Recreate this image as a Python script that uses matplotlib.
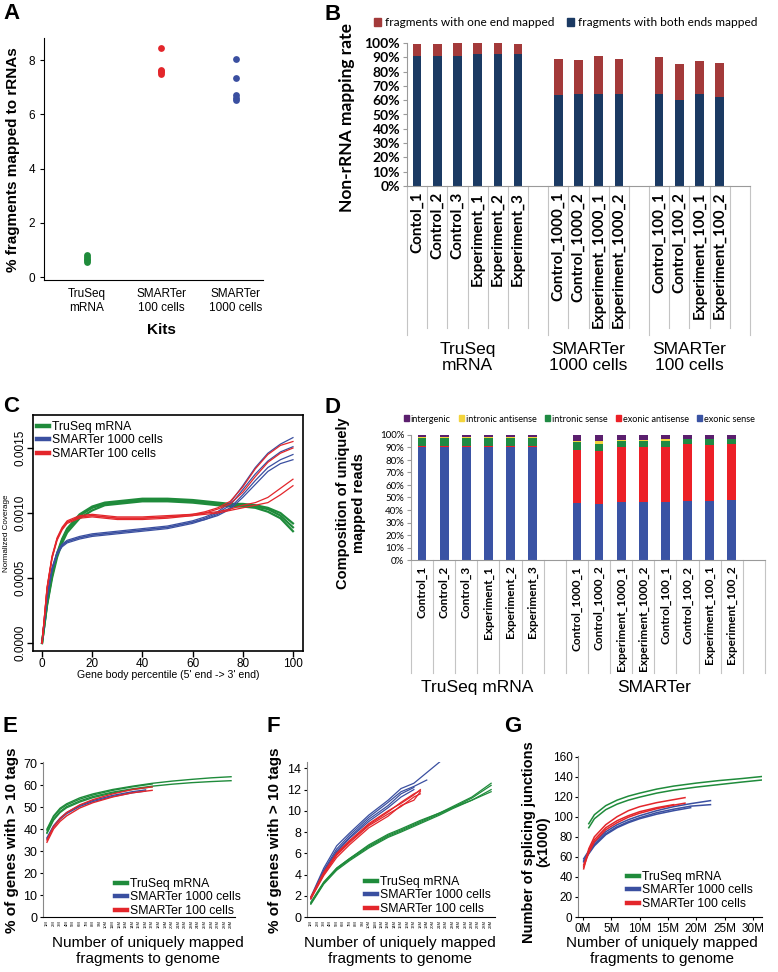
import numpy as np
import matplotlib
matplotlib.use('Agg')
import matplotlib.pyplot as plt
from matplotlib.lines import Line2D
from matplotlib.patches import Patch

plt.rcParams['font.family'] = ['Liberation Sans', 'DejaVu Sans']

W, H = 778, 972

# ---------------- data ----------------
# A: % fragments mapped to rRNAs
kits = ['TruSeq\nmRNA', 'SMARTer\n100 cells', 'SMARTer\n1000 cells']
rrna_truseq = [0.55, 0.62, 0.68, 0.74, 0.80]
rrna_s100 = [8.45, 7.65, 7.6, 7.55, 7.5]
rrna_s1000 = [8.05, 7.35, 6.7, 6.62, 6.55]

# B: non-rRNA mapping rate
b_samples = ['Contol_1', 'Control_2', 'Control_3', 'Experiment_1', 'Experiment_2', 'Experiment_3',
             'Control_1000_1', 'Control_1000_2', 'Experiment_1000_1', 'Experiment_1000_2',
             'Control_100_1', 'Control_100_2', 'Experiment_100_1', 'Experiment_100_2']
b_groups = ['TruSeq\nmRNA', 'SMARTer\n1000 cells', 'SMARTer\n100 cells']
b_group_sizes = [6, 4, 4]
b_both = [91, 91, 91, 92, 92, 92, 63.5, 64.5, 64.5, 64, 64, 60, 64, 62.5]
b_one = [8, 8, 9, 8, 8, 7, 25, 23.5, 26.5, 25, 26.5, 25.5, 23.5, 23.5]

# C: gene body coverage
c_pct = [0, 2, 4, 6, 8, 10, 15, 20, 25, 30, 40, 50, 60, 65, 70, 75, 80, 85, 90, 95, 100]
c_truseq = [
    [0, 0.00030, 0.00052, 0.00068, 0.00079, 0.00087, 0.00098, 0.00104, 0.00107, 0.00108, 0.00110, 0.00110, 0.00109, 0.00108, 0.00107, 0.00106, 0.00106, 0.00105, 0.00103, 0.00098, 0.00089],
    [0, 0.00029, 0.00050, 0.00066, 0.00077, 0.00085, 0.00096, 0.00102, 0.00106, 0.00107, 0.00109, 0.00109, 0.00108, 0.00107, 0.00106, 0.00105, 0.00105, 0.00104, 0.00101, 0.00096, 0.00086],
    [0, 0.00031, 0.00053, 0.00069, 0.00080, 0.00088, 0.00099, 0.00105, 0.00108, 0.00109, 0.00111, 0.00111, 0.00110, 0.00109, 0.00108, 0.00107, 0.00107, 0.00106, 0.00104, 0.00100, 0.00092],
]
c_s1000 = [
    [0, 0.00036, 0.00058, 0.00070, 0.00076, 0.00079, 0.00082, 0.00084, 0.00085, 0.00086, 0.00088, 0.00090, 0.00094, 0.00097, 0.00101, 0.00108, 0.00121, 0.00135, 0.00146, 0.00153, 0.00158],
    [0, 0.00035, 0.00057, 0.00069, 0.00075, 0.00078, 0.00081, 0.00083, 0.00084, 0.00085, 0.00087, 0.00089, 0.00093, 0.00096, 0.00100, 0.00106, 0.00118, 0.00130, 0.00140, 0.00147, 0.00151],
    [0, 0.00034, 0.00056, 0.00068, 0.00074, 0.00077, 0.00080, 0.00082, 0.00083, 0.00084, 0.00086, 0.00088, 0.00092, 0.00095, 0.00099, 0.00104, 0.00114, 0.00125, 0.00135, 0.00141, 0.00145],
    [0, 0.00035, 0.00057, 0.00069, 0.00075, 0.00078, 0.00081, 0.00083, 0.00084, 0.00085, 0.00087, 0.00089, 0.00093, 0.00095, 0.00098, 0.00103, 0.00112, 0.00122, 0.00132, 0.00138, 0.00141],
]
c_s100 = [
    [0, 0.00042, 0.00066, 0.00080, 0.00088, 0.00093, 0.00097, 0.00098, 0.00097, 0.00096, 0.00096, 0.00097, 0.00099, 0.00101, 0.00104, 0.00109, 0.00120, 0.00134, 0.00145, 0.00152, 0.00155],
    [0, 0.00041, 0.00065, 0.00079, 0.00087, 0.00092, 0.00096, 0.00097, 0.00096, 0.00095, 0.00095, 0.00096, 0.00098, 0.00100, 0.00103, 0.00107, 0.00116, 0.00128, 0.00139, 0.00146, 0.00150],
    [0, 0.00043, 0.00067, 0.00081, 0.00089, 0.00094, 0.00098, 0.00099, 0.00098, 0.00097, 0.00097, 0.00098, 0.00099, 0.00100, 0.00101, 0.00103, 0.00106, 0.00108, 0.00112, 0.00119, 0.00126],
    [0, 0.00042, 0.00066, 0.00080, 0.00088, 0.00093, 0.00097, 0.00098, 0.00097, 0.00096, 0.00096, 0.00097, 0.00098, 0.00099, 0.00100, 0.00102, 0.00104, 0.00106, 0.00108, 0.00114, 0.00121],
]

# D: composition of uniquely mapped reads
d_samples = ['Control_1', 'Control_2', 'Control_3', 'Experiment_1', 'Experiment_2', 'Experiment_3',
             'Control_1000_1', 'Control_1000_2', 'Experiment_1000_1', 'Experiment_1000_2',
             'Control_100_1', 'Control_100_2', 'Experiment_100_1', 'Experiment_100_2']
d_groups = ['TruSeq mRNA', 'SMARTer']
d_group_sizes = [6, 8]
d_categories = ['intergenic', 'intronic antisense', 'intronic sense', 'exonic antisense', 'exonic sense']
d_exonic_sense = [90.5, 90.5, 90.5, 90.5, 90.5, 90.5, 45.5, 45, 46.5, 46, 46.5, 47.5, 47, 48]
d_exonic_antisense = [1, 1, 1, 1, 1, 1, 42.5, 42, 43.5, 44, 43.5, 45, 45, 44.5]
d_intronic_sense = [6.2, 6.2, 6.2, 6.2, 6.2, 6.2, 6, 6, 5.5, 5, 5.5, 4, 4.5, 4]
d_intronic_antisense = [0.3, 0.3, 0.3, 0.3, 0.3, 0.3, 1.5, 2.5, 0.5, 1, 1, 0.5, 0.5, 0.5]
d_intergenic = [2, 2, 2, 2, 2, 2, 4.5, 4.5, 4, 4, 3.5, 3, 3, 3]

# E: % of genes with > 10 tags vs depth (tick index)
e_xticklabels = ['%dM' % i for i in range(1, 30)]
e_truseq_x = [1, 2, 3, 4, 6, 8, 11, 14, 17, 20, 23, 26, 29]
e_truseq = [
    [40, 46, 49.5, 51.5, 54.2, 56, 58, 59.5, 60.8, 61.8, 62.6, 63.3, 63.8],
    [38.5, 44.5, 48, 50.2, 52.8, 54.8, 56.8, 58.3, 59.5, 60.4, 61.1, 61.6, 62],
]
e_truseq_short_x = [1, 2, 3, 4, 6, 8, 11, 14, 17]
e_truseq_short = [
    [39.5, 45.5, 49, 51, 53.6, 55.5, 57.6, 59.2, 60.5],
    [38, 44, 47.5, 49.7, 52.3, 54.3, 56.4, 58, 59.2],
]
e_s1000_x = [1, 2, 3, 4, 6, 8, 11, 14, 16]
e_s1000 = [
    [36, 41.5, 45, 47.5, 50.8, 53, 55.3, 57, 57.8],
    [35.5, 41, 44.5, 47, 50.3, 52.5, 54.8, 56.5, 57.3],
]
e_s100_x = [1, 2, 3, 4, 6, 8, 11, 14, 17]
e_s100 = [
    [35, 41, 44.8, 47.5, 51, 53.4, 56, 58, 59.2],
    [34, 40, 43.5, 46, 49.6, 52, 54.6, 56.5, 57.6],
]

# F
f_xticklabels = ['%dM' % i for i in range(1, 30)]
f_truseq_x = [1, 3, 5, 7, 10, 13, 15, 18, 21, 23, 26, 29]
f_truseq = [
    [1.3, 3.2, 4.5, 5.4, 6.6, 7.6, 8.1, 8.9, 9.7, 10.3, 11.2, 12.4],
    [1.4, 3.3, 4.6, 5.5, 6.8, 7.8, 8.3, 9.1, 9.8, 10.3, 11.0, 12.0],
    [1.2, 3.1, 4.4, 5.3, 6.5, 7.5, 8.0, 8.8, 9.6, 10.2, 11.0, 11.8],
    [1.3, 3.2, 4.6, 5.5, 6.7, 7.7, 8.2, 9.0, 9.8, 10.4, 11.3, 12.6],
]
f_s1000_x = [1, 3, 5, 7, 10, 13, 15, 17, 19, 21]
f_s1000 = [
    [1.9, 4.6, 6.7, 7.9, 9.6, 11.0, 12.1, 12.6, 13.6, 14.6],
    [1.8, 4.4, 6.4, 7.7, 9.4, 10.8, 11.8, 12.3, 12.9],
    [1.8, 4.3, 6.2, 7.5, 9.2, 10.5, 11.6, 12.2],
    [1.7, 4.2, 6.1, 7.4, 9.0, 10.3, 11.3, 12.0],
]
f_s100_x = [1, 3, 5, 7, 10, 13, 15, 17, 18]
f_s100 = [
    [1.9, 4.2, 6.0, 7.2, 8.8, 10.0, 10.7, 11.5, 12.0],
    [1.8, 4.0, 5.8, 7.0, 8.6, 9.7, 10.4, 11.3, 11.6],
    [1.7, 3.9, 5.6, 6.8, 8.4, 9.5, 10.5, 11.0, 11.8],
    [1.8, 4.1, 5.9, 7.1, 8.7, 9.9, 10.8, 11.6, 11.9],
]

# G: splicing junctions (x1000) vs fragments (millions)
g_xticklabels = ['0M', '5M', '10M', '15M', '20M', '25M', '30M']
g_truseq_x = [1, 2, 4, 6, 8, 10, 13, 16, 20, 24, 28, 31.5]
g_truseq = [
    [93, 102, 111, 116.5, 120.5, 123.5, 127.5, 130.5, 133.5, 136, 138, 140],
    [89, 98, 107, 112.5, 116.5, 119.5, 123.5, 126.5, 129.5, 132, 134.5, 136.5],
]
g_s1000_x = [0.1, 1, 2, 4, 6, 8, 10, 13, 16, 19, 22.5]
g_s1000 = [
    [58, 66, 74, 85, 92, 97, 101, 106, 110, 113, 116],
    [56, 64, 72, 83, 90, 95, 99, 104, 107.5, 110.5, 112],
    [55, 63, 71, 82, 89, 94, 98, 102.5, 106, 109],
]
g_s100_x = [0.1, 1, 2, 4, 6, 8, 10, 13, 16, 18]
g_s100 = [
    [48, 68, 80, 92, 100, 106, 110, 114, 117, 119],
    [52, 66, 77, 89, 96, 101, 105, 109, 112],
    [50, 64, 75, 87, 94, 99.5, 103.5, 108, 111.5, 113.5],
]

GREEN, BLUE, RED = '#1f8b3b', '#3a4fa0', '#e3262b'
series_labels = ['TruSeq mRNA', 'SMARTer 1000 cells', 'SMARTer 100 cells']
NARROW = ['Liberation Sans Narrow', 'Lato', 'DejaVu Sans']


def ax_rect(x0, y0, x1, y1):
    return [x0 / W, 1 - y1 / H, (x1 - x0) / W, (y1 - y0) / H]


def ftext(x, y, s, **kw):
    fig.text(x / W, 1 - y / H, s, **kw)


def group_slots(sizes):
    # one empty slot between groups
    pos, start = [], 0
    for s in sizes:
        pos += list(range(start, start + s))
        start += s + 1
    return pos, start - 1


def line_legend(ax, anchor):
    handles = [Line2D([], [], color=c, lw=3.2) for c in (GREEN, BLUE, RED)]
    ax.legend(handles, series_labels, loc='upper left', bbox_to_anchor=anchor,
              bbox_transform=fig.transFigure, frameon=False, fontsize=8.8,
              handlelength=1.0, handletextpad=0.25, labelspacing=0.12,
              borderaxespad=0, borderpad=0)


fig = plt.figure(figsize=(W / 100, H / 100), dpi=100)

# ---------------- A ----------------
axA = fig.add_axes(ax_rect(44, 38, 263, 280))
for i, (vals, col) in enumerate(zip([rrna_truseq, rrna_s100, rrna_s1000], [GREEN, RED, BLUE])):
    axA.scatter([i] * len(vals), vals, s=24, color=col, linewidths=0, zorder=3)
axA.set_xlim(-0.58, 2.37)
axA.set_ylim(-0.11, 8.82)
axA.set_yticks([0, 2, 4, 6, 8])
axA.set_xticks([0, 1, 2])
axA.set_xticklabels(kits, fontsize=8.5, linespacing=1.2)
axA.tick_params(axis='x', length=0, pad=6)
axA.tick_params(axis='y', labelsize=8.5, length=3)
for s in ['top', 'right']:
    axA.spines[s].set_visible(False)
ftext(161, 330, 'Kits', fontsize=11, fontweight='bold', ha='center', va='center')
ftext(13, 160, '% fragments mapped to rRNAs', fontsize=11, fontweight='bold',
      rotation=90, ha='center', va='center')

# ---------------- B ----------------
axB = fig.add_axes(ax_rect(407, 43, 750, 186))
b_pos, b_last = group_slots(b_group_sizes)
axB.bar(b_pos, b_both, width=0.42, color='#1b3a63', zorder=2)
axB.bar(b_pos, b_one, bottom=b_both, width=0.42, color='#a33a3a', zorder=2)
axB.set_xlim(-0.5, b_last + 0.5)
axB.set_ylim(0, 100)
axB.set_yticks(range(0, 101, 10))
axB.set_yticklabels(['%d%%' % v for v in range(0, 101, 10)],
                    fontdict={'family': 'Lato', 'weight': 'bold', 'size': 10})
axB.set_xticks([])
axB.tick_params(axis='y', color='#9a9a9a', length=3, pad=2)
for s in ['top', 'right']:
    axB.spines[s].set_visible(False)
for s in ['left', 'bottom']:
    axB.spines[s].set_color('#9a9a9a')
tb = axB.get_xaxis_transform()
for p, name in zip(b_pos, b_samples):
    axB.text(p, -0.04, name, transform=tb, rotation=90, ha='center', va='top',
             fontsize=11, family=NARROW, fontweight='bold')
group_edges = []
start = 0
for s in b_group_sizes:
    group_edges.append(start - 0.5)
    start += s + 1
group_edges.append(b_last + 0.5)
for b in np.arange(-0.5, b_last + 1):
    depth = -1.045 if b in group_edges else -0.99
    axB.plot([b, b], [0, depth], transform=tb, clip_on=False, color='#c4c4c4', lw=0.8)
start = 0
for name, s in zip(b_groups, b_group_sizes):
    axB.text(start + (s - 1) / 2, -1.2, name, transform=tb, ha='center', va='center',
             fontsize=12.5, linespacing=1.15)
    start += s + 1
axB.legend([Patch(color='#a33a3a'), Patch(color='#1b3a63')],
           ['fragments with one end mapped', 'fragments with both ends mapped'],
           ncol=2, loc='center left', bbox_to_anchor=(374 / W, 1 - 23 / H),
           bbox_transform=fig.transFigure, frameon=False, handlelength=0.6, handleheight=0.6,
           handletextpad=0.3, columnspacing=1.1, prop={'family': 'Lato', 'size': 8.6},
           borderaxespad=0, borderpad=0)
ftext(347, 118, 'Non-rRNA mapping rate', fontsize=12.5, family='Lato', fontweight='bold',
      rotation=90, ha='center', va='center')

# ---------------- C ----------------
axC = fig.add_axes(ax_rect(33, 415, 303, 651))
for ys in c_truseq:
    axC.plot(c_pct, ys, color=GREEN, lw=1.6)
for ys in c_s1000:
    axC.plot(c_pct, ys, color=BLUE, lw=0.9)
for ys in c_s100:
    axC.plot(c_pct, ys, color=RED, lw=0.9)
axC.set_xlim(-3.6, 104)
axC.set_ylim(-0.0000615, 0.001754)
axC.set_xticks([0, 20, 40, 60, 80, 100])
axC.set_yticks([0, 0.0005, 0.0010, 0.0015])
axC.set_yticklabels(['0.0000', '0.0005', '0.0010', '0.0015'], rotation=90, va='center')
axC.tick_params(labelsize=8.5, length=4, width=1, pad=1)
for s in axC.spines.values():
    s.set_linewidth(1.2)
line_legend(axC, (37 / W, 1 - 421 / H))
ftext(168, 675, "Gene body percentile (5' end -> 3' end)", fontsize=7.6, ha='center', va='center')
ftext(7, 533, 'Normalized Coverage', fontsize=5.8, rotation=90, ha='center', va='center')

# ---------------- D ----------------
axD = fig.add_axes(ax_rect(411, 435, 765, 560))
d_pos, d_last = group_slots(d_group_sizes)
d_stack = [d_exonic_sense, d_exonic_antisense, d_intronic_sense, d_intronic_antisense, d_intergenic]
d_colors = ['#3a53a4', '#ec2027', '#1f8a43', '#f3d43c', '#5b1f6e']
bottom = np.zeros(len(d_pos))
for vals, col in zip(d_stack, d_colors):
    axD.bar(d_pos, vals, bottom=bottom, width=0.4, color=col, zorder=2)
    bottom += np.array(vals)
axD.set_xlim(-0.5, d_last + 0.5)
axD.set_ylim(0, 100)
axD.set_yticks(range(0, 101, 10))
axD.set_yticklabels(['%d%%' % v for v in range(0, 101, 10)],
                    fontdict={'family': 'Lato', 'size': 7})
axD.set_xticks([])
axD.tick_params(axis='y', color='#9a9a9a', length=3, pad=2)
for s in ['top', 'right']:
    axD.spines[s].set_visible(False)
for s in ['left', 'bottom']:
    axD.spines[s].set_color('#9a9a9a')
td = axD.get_xaxis_transform()
for p, name in zip(d_pos, d_samples):
    axD.text(p, -0.045, name, transform=td, rotation=90, ha='center', va='top',
             fontsize=8.5, family='Lato', fontweight='bold')
for b in np.arange(-0.5, d_last + 1):
    axD.plot([b, b], [0, -0.9], transform=td, clip_on=False, color='#c4c4c4', lw=0.8)
start = 0
for name, s in zip(d_groups, d_group_sizes):
    axD.text(start + (s - 1) / 2, -1.02, name, transform=td, ha='center', va='center',
             fontsize=12.5)
    start += s + 1
leg_order = [4, 3, 2, 1, 0]
axD.legend([Patch(color=d_colors[i]) for i in leg_order], d_categories,
           ncol=5, loc='center left', bbox_to_anchor=(404 / W, 1 - 419 / H),
           bbox_transform=fig.transFigure, frameon=False, handlelength=0.55, handleheight=0.6,
           handletextpad=0.2, columnspacing=0.9, prop={'family': 'Lato', 'size': 6.6},
           borderaxespad=0, borderpad=0)
ftext(351, 503, 'Composition of uniquely\nmapped reads', fontsize=10.5, fontweight='bold',
      rotation=90, ha='center', va='center', linespacing=1.1)

# ---------------- E ----------------
axE = fig.add_axes(ax_rect(43, 762, 235, 917))
for ys in e_truseq:
    axE.plot(e_truseq_x, ys, color=GREEN, lw=1.0)
for ys in e_truseq_short:
    axE.plot(e_truseq_short_x, ys, color=GREEN, lw=1.0)
for ys in e_s1000:
    axE.plot(e_s1000_x, ys, color=BLUE, lw=1.0)
for ys in e_s100:
    axE.plot(e_s100_x, ys, color=RED, lw=1.0)
axE.set_xlim(0.4, 29.6)
axE.set_ylim(0, 70.5)
axE.set_yticks(range(0, 71, 10))
axE.set_xticks(range(1, 30))
axE.set_xticklabels(e_xticklabels, rotation=90, fontsize=3)
axE.tick_params(axis='x', length=0, pad=2)
axE.tick_params(axis='y', labelsize=9, length=2, pad=2)
for s in ['top', 'right']:
    axE.spines[s].set_visible(False)
axE.spines['left'].set_color('#888888')
line_legend(axE, (115 / W, 1 - 878 / H))
ftext(148, 951, 'Number of uniquely mapped\nfragments to genome', fontsize=11,
      ha='center', va='center', linespacing=1.1)
ftext(12, 840, '% of genes with > 10 tags', fontsize=11, fontweight='bold',
      rotation=90, ha='center', va='center')

# ---------------- F ----------------
axF = fig.add_axes(ax_rect(307, 762, 495, 917))
for ys in f_truseq:
    axF.plot(f_truseq_x, ys, color=GREEN, lw=0.9)
for ys in f_s1000:
    axF.plot(f_s1000_x[:len(ys)], ys, color=BLUE, lw=0.9)
for ys in f_s100:
    axF.plot(f_s100_x, ys, color=RED, lw=0.9)
axF.set_xlim(0.4, 29.6)
axF.set_ylim(0, 14.6)
axF.set_yticks(range(0, 15, 2))
axF.set_xticks(range(1, 30))
axF.set_xticklabels(f_xticklabels, rotation=90, fontsize=3)
axF.tick_params(axis='x', length=0, pad=2)
axF.tick_params(axis='y', labelsize=9, length=2, pad=2)
for s in ['top', 'right']:
    axF.spines[s].set_visible(False)
axF.spines['left'].set_color('#888888')
line_legend(axF, (365 / W, 1 - 876 / H))
ftext(400, 951, 'Number of uniquely mapped\nfragments to genome', fontsize=11,
      ha='center', va='center', linespacing=1.1)
ftext(275, 840, '% of genes with > 10 tags', fontsize=11, fontweight='bold',
      rotation=90, ha='center', va='center')

# ---------------- G ----------------
axG = fig.add_axes(ax_rect(578, 756, 762, 917))
for ys in g_truseq:
    axG.plot(g_truseq_x, ys, color=GREEN, lw=1.1)
for ys in g_s1000:
    axG.plot(g_s1000_x[:len(ys)], ys, color=BLUE, lw=1.1)
for ys in g_s100:
    axG.plot(g_s100_x[:len(ys)], ys, color=RED, lw=1.1)
axG.set_xlim(-0.9, 31.6)
axG.set_ylim(0, 160.5)
axG.set_yticks(range(0, 161, 20))
axG.set_xticks(range(0, 31, 5))
axG.set_xticklabels(g_xticklabels)
axG.tick_params(labelsize=8.5, length=2, pad=2)
for s in ['top', 'right']:
    axG.spines[s].set_visible(False)
axG.spines['left'].set_color('#888888')
line_legend(axG, (627 / W, 1 - 871 / H))
ftext(662, 951, 'Number of uniquely mapped\nfragments to genome', fontsize=11,
      ha='center', va='center', linespacing=1.1)
ftext(536, 842, 'Number of splicing junctions\n(x1000)', fontsize=10.5, fontweight='bold',
      rotation=90, ha='center', va='center', linespacing=1.0)

# ---------------- panel letters ----------------
for letter, x, y in [('A', 3, 3), ('B', 324, 4), ('C', 3, 396), ('D', 324, 397),
                     ('E', 3, 716), ('F', 266, 716), ('G', 504, 716)]:
    ftext(x, y, letter, fontsize=16, fontweight='bold', ha='left', va='top')

fig.savefig('out.png', dpi=100)
